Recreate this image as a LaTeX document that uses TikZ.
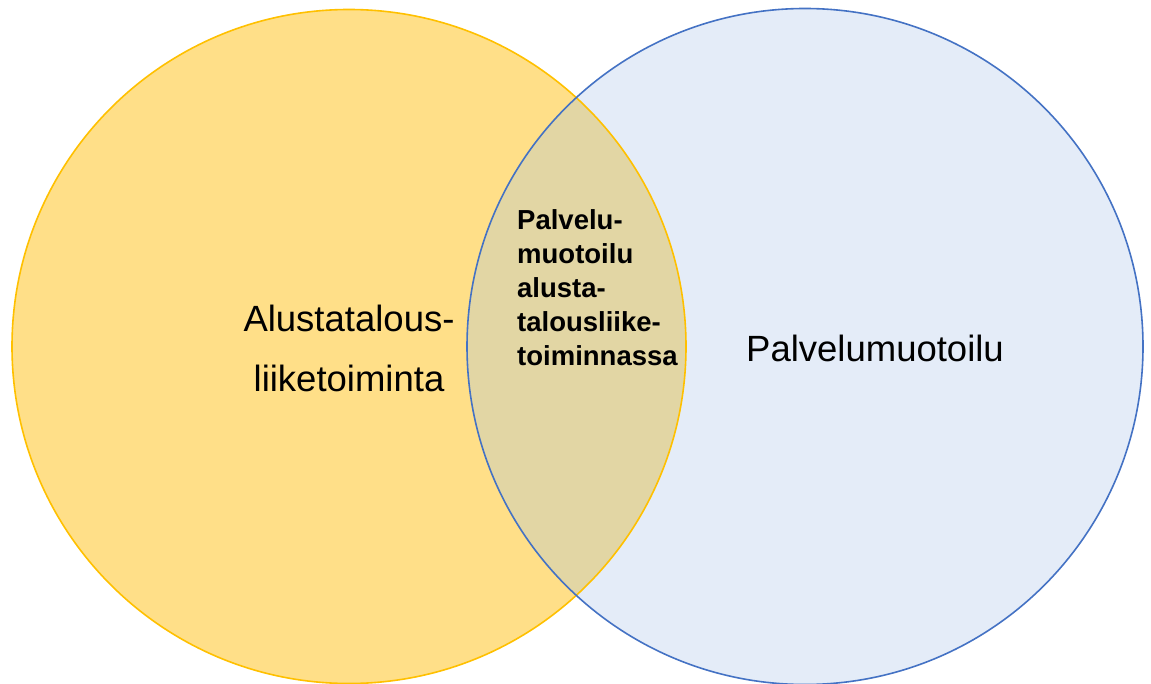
\documentclass[tikz,border=0pt]{standalone}
\usepackage{fontspec}
\setmainfont{Liberation Sans}
\definecolor{yfill}{HTML}{FFDF88}
\definecolor{ystroke}{HTML}{FFC000}
\definecolor{bfill}{HTML}{E4ECF8}
\definecolor{bstroke}{HTML}{4472C4}
\definecolor{ofill}{HTML}{E2D6A4}
\tikzset{
  lbl/.style={font=\fontsize{36.5}{60}\selectfont, align=center, text=black},
  mid/.style={font=\bfseries\fontsize{27.5}{34}\selectfont, align=left, text=black, anchor=north west, inner sep=0pt}
}
\begin{document}
\begin{tikzpicture}[x=1pt,y=-1pt]
\useasboundingbox (0,0) rectangle (1151,684);
\coordinate (cl) at (349,346.5);
\coordinate (cr) at (805,346.5);
% circle fills
\fill[yfill] (cl) circle (337);
\fill[bfill] (cr) circle (338);
% overlapping lens
\begin{scope}
  \clip (cl) circle (337);
  \fill[ofill] (cr) circle (338);
\end{scope}
% outlines
\draw[ystroke, line width=1.6pt] (cl) circle (337);
\draw[bstroke, line width=1.6pt] (cr) circle (338);
% labels
\node[lbl] (left) at (349,348) {Alustatalous-\\liiketoiminta};
\node[lbl] (right) at (875,348) {Palvelumuotoilu};
\node[mid] (both) at (517,209) {Palvelu-\\muotoilu\\alusta-\\talousliike-\\toiminnassa};
\end{tikzpicture}
\end{document}
